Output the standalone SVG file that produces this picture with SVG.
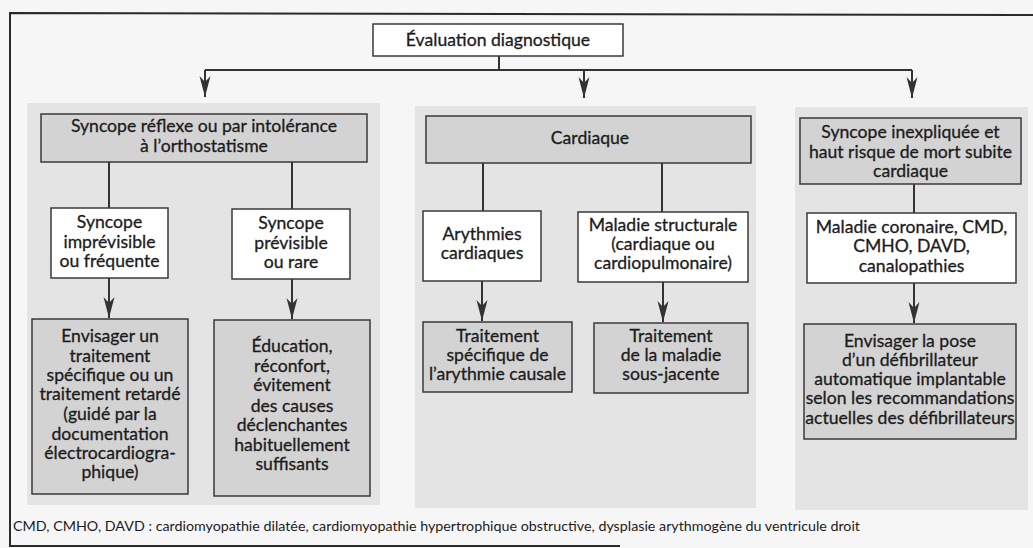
<svg xmlns="http://www.w3.org/2000/svg" width="1033" height="548" viewBox="0 0 1033 548">
<defs>
<style>
.bg{fill:#f6f6f6}
.panel{fill:#e4e4e4}
.wbox{fill:#ffffff;stroke:#3a3a3a;stroke-width:1.5}
.gbox{fill:#d3d3d3;stroke:#3a3a3a;stroke-width:1.5}
.frame{fill:none;stroke:#2a2a2a;stroke-width:2}
.t{font-family:Lato,"Open Sans",sans-serif;font-size:17.6px;fill:#1c1c1c;stroke:#1c1c1c;stroke-width:0.3;text-anchor:middle}
.fn{font-family:Lato,"Open Sans",sans-serif;font-size:14px;fill:#1c1c1c}
.c{fill:none;stroke:#333333;stroke-width:2}
.a{fill:none;stroke:#333333;stroke-width:2;marker-end:url(#arr)}
</style>
<marker id="arr" markerUnits="userSpaceOnUse" markerWidth="22" markerHeight="12" viewBox="0 -6 22 12" refX="21" refY="0" orient="auto">
<path d="M0,-5.5 L21,0 L0,5.5 L6,0 Z" fill="#333333"/>
</marker>
</defs>
<rect class="bg" x="0" y="0" width="1033" height="548"/>
<path class="frame" d="M1033,15 L10,13 L10,546 L620,546"/>
<rect class="panel" x="27" y="103" width="353" height="402"/>
<rect class="panel" x="415" y="106" width="341" height="402"/>
<rect class="panel" x="795" y="107" width="233" height="403"/>

<g id="connectors">
<path class="c" d="M499,56 V70 M205,70 H912"/>
<path class="a" d="M205,70 V97"/>
<path class="a" d="M584,70 V98"/>
<path class="a" d="M912,70 V98"/>
<path class="c" d="M109,162 V208 M292,162 V209"/>
<path class="a" d="M109,278 V318"/>
<path class="a" d="M292,279 V319"/>
<path class="c" d="M483,163 V211 M662,163 V212"/>
<path class="a" d="M482,281 V321"/>
<path class="a" d="M663,282 V322"/>
<path class="c" d="M914,184 V213"/>
<path class="a" d="M914,283 V323"/>
</g>

<g id="n-eval">
<rect class="wbox" x="373" y="24" width="250" height="32"/>
<text class="t" x="498" y="46">Évaluation diagnostique</text>
</g>

<g id="n-reflexe">
<rect class="gbox" x="41" y="114" width="326" height="48"/>
<text class="t" x="204" y="132">Syncope réflexe ou par intolérance</text>
<text class="t" x="204" y="152">à l’orthostatisme</text>
</g>
<g id="n-imprev">
<rect class="wbox" x="51" y="208" width="117" height="70"/>
<text class="t" x="109.5" y="228">Syncope</text>
<text class="t" x="109.5" y="248">imprévisible</text>
<text class="t" x="109.5" y="267">ou fréquente</text>
</g>
<g id="n-prev">
<rect class="wbox" x="232" y="209" width="118" height="70"/>
<text class="t" x="291" y="229">Syncope</text>
<text class="t" x="291" y="249">prévisible</text>
<text class="t" x="291" y="268">ou rare</text>
</g>
<g id="n-envisager">
<rect class="gbox" x="32" y="319" width="156" height="175"/>
<text class="t" x="110" y="342">Envisager un</text>
<text class="t" x="110" y="362">traitement</text>
<text class="t" x="110" y="381">spécifique ou un</text>
<text class="t" x="110" y="400">traitement retardé</text>
<text class="t" x="110" y="420">(guidé par la</text>
<text class="t" x="110" y="440">documentation</text>
<text class="t" x="110" y="459">électrocardiogra-</text>
<text class="t" x="110" y="478">phique)</text>
</g>
<g id="n-education">
<rect class="gbox" x="214" y="320" width="156" height="176"/>
<text class="t" x="292" y="352">Éducation,</text>
<text class="t" x="292" y="372">réconfort,</text>
<text class="t" x="292" y="391">évitement</text>
<text class="t" x="292" y="412">des causes</text>
<text class="t" x="292" y="431">déclenchantes</text>
<text class="t" x="292" y="451">habituellement</text>
<text class="t" x="292" y="470">suffisants</text>
</g>

<g id="n-cardiaque">
<rect class="gbox" x="426" y="116" width="325" height="47"/>
<text class="t" x="590" y="144">Cardiaque</text>
</g>
<g id="n-arythmies">
<rect class="wbox" x="423" y="211" width="118" height="70"/>
<text class="t" x="482" y="240">Arythmies</text>
<text class="t" x="482" y="259">cardiaques</text>
</g>
<g id="n-structurale">
<rect class="wbox" x="578" y="212" width="170" height="70"/>
<text class="t" x="663" y="231">Maladie structurale</text>
<text class="t" x="663" y="250">(cardiaque ou</text>
<text class="t" x="663" y="269">cardiopulmonaire)</text>
</g>
<g id="n-trait-aryth">
<rect class="gbox" x="423" y="322" width="149" height="70"/>
<text class="t" x="497.5" y="342">Traitement</text>
<text class="t" x="497.5" y="361">spécifique de</text>
<text class="t" x="497.5" y="380">l’arythmie causale</text>
</g>
<g id="n-trait-maladie">
<rect class="gbox" x="594" y="323" width="154" height="70"/>
<text class="t" x="671" y="342">Traitement</text>
<text class="t" x="671" y="361">de la maladie</text>
<text class="t" x="671" y="380">sous-jacente</text>
</g>

<g id="n-inexpliquee">
<rect class="gbox" x="800" y="118" width="221" height="66"/>
<text class="t" x="910.5" y="138">Syncope inexpliquée et</text>
<text class="t" x="910.5" y="158">haut risque de mort subite</text>
<text class="t" x="910.5" y="177">cardiaque</text>
</g>
<g id="n-coronaire">
<rect class="wbox" x="807" y="213" width="209" height="70"/>
<text class="t" x="911.5" y="233">Maladie coronaire, CMD,</text>
<text class="t" x="911.5" y="252">CMHO, DAVD,</text>
<text class="t" x="911.5" y="272">canalopathies</text>
</g>
<g id="n-defib">
<rect class="gbox" x="804" y="324" width="212" height="115"/>
<text class="t" x="910" y="347">Envisager la pose</text>
<text class="t" x="910" y="366">d’un défibrillateur</text>
<text class="t" x="910" y="385">automatique implantable</text>
<text class="t" x="910" y="404">selon les recommandations</text>
<text class="t" x="910" y="424">actuelles des défibrillateurs</text>
</g>

<text class="fn" x="13" y="531" textLength="847" lengthAdjust="spacingAndGlyphs">CMD, CMHO, DAVD : cardiomyopathie dilatée, cardiomyopathie hypertrophique obstructive, dysplasie arythmogène du ventricule droit</text>
</svg>
